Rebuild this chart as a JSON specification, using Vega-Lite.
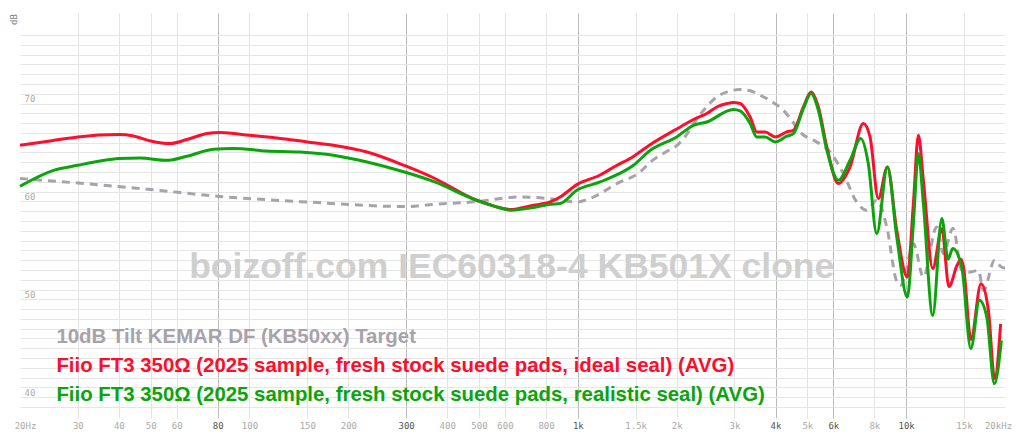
{
  "$schema": "https://vega.github.io/schema/vega-lite/v6.json",
  "width": 985,
  "height": 394,
  "autosize": "none",
  "padding": {"left": 20, "top": 13, "right": 19, "bottom": 36},
  "background": "white",
  "config": {"view": {"stroke": null}},
  "datasets": {
    "curves": [
      {"s": "t", "f": 20, "d": 62.34}, {"s": "t", "f": 30, "d": 61.88}, {"s": "t", "f": 50, "d": 61.21}, {"s": "t", "f": 80, "d": 60.53},
      {"s": "t", "f": 150, "d": 59.94}, {"s": "t", "f": 300, "d": 59.48}, {"s": "t", "f": 363, "d": 59.7}, {"s": "t", "f": 500, "d": 60.0},
      {"s": "t", "f": 600, "d": 60.35}, {"s": "t", "f": 650, "d": 60.45}, {"s": "t", "f": 820, "d": 60.29}, {"s": "t", "f": 990, "d": 59.94},
      {"s": "t", "f": 1115, "d": 60.45}, {"s": "t", "f": 1314, "d": 61.82}, {"s": "t", "f": 1548, "d": 63.01}, {"s": "t", "f": 1660, "d": 64.0},
      {"s": "t", "f": 1865, "d": 65.1}, {"s": "t", "f": 2000, "d": 65.7}, {"s": "t", "f": 2120, "d": 66.6}, {"s": "t", "f": 2249, "d": 67.9},
      {"s": "t", "f": 2400, "d": 69.2}, {"s": "t", "f": 2650, "d": 70.67}, {"s": "t", "f": 2850, "d": 71.2}, {"s": "t", "f": 3119, "d": 71.43},
      {"s": "t", "f": 3350, "d": 71.3}, {"s": "t", "f": 3596, "d": 70.85}, {"s": "t", "f": 3900, "d": 70.2}, {"s": "t", "f": 4227, "d": 69.31},
      {"s": "t", "f": 4500, "d": 68.2}, {"s": "t", "f": 4751, "d": 67.1}, {"s": "t", "f": 5341, "d": 66.08}, {"s": "t", "f": 5864, "d": 65.06},
      {"s": "t", "f": 6437, "d": 62.85}, {"s": "t", "f": 7069, "d": 59.94}, {"s": "t", "f": 7583, "d": 59.09}, {"s": "t", "f": 8135, "d": 60.12},
      {"s": "t", "f": 8729, "d": 57.39}, {"s": "t", "f": 9362, "d": 51.8}, {"s": "t", "f": 9600, "d": 51.4}, {"s": "t", "f": 9900, "d": 52.3},
      {"s": "t", "f": 10519, "d": 55.69}, {"s": "t", "f": 11283, "d": 52.28}, {"s": "t", "f": 12390, "d": 57.39}, {"s": "t", "f": 12980, "d": 54.67},
      {"s": "t", "f": 13890, "d": 57.26}, {"s": "t", "f": 14770, "d": 52.96}, {"s": "t", "f": 15660, "d": 52.79}, {"s": "t", "f": 16590, "d": 52.96},
      {"s": "t", "f": 17200, "d": 50.9}, {"s": "t", "f": 18600, "d": 54.0}, {"s": "t", "f": 19500, "d": 53.3}, {"s": "t", "f": 20000, "d": 53.17},

      {"s": "r", "f": 20, "d": 65.74}, {"s": "r", "f": 25, "d": 66.2}, {"s": "r", "f": 30, "d": 66.59}, {"s": "r", "f": 40, "d": 66.83},
      {"s": "r", "f": 44.3, "d": 66.69}, {"s": "r", "f": 50, "d": 66.18}, {"s": "r", "f": 57.3, "d": 65.91}, {"s": "r", "f": 64.5, "d": 66.32},
      {"s": "r", "f": 74.2, "d": 66.93}, {"s": "r", "f": 81.4, "d": 67.04}, {"s": "r", "f": 100, "d": 66.76}, {"s": "r", "f": 121, "d": 66.48},
      {"s": "r", "f": 150, "d": 66.08}, {"s": "r", "f": 180, "d": 65.74}, {"s": "r", "f": 228, "d": 65.05}, {"s": "r", "f": 300, "d": 63.6},
      {"s": "r", "f": 363, "d": 62.42}, {"s": "r", "f": 492, "d": 60.12}, {"s": "r", "f": 560, "d": 59.5}, {"s": "r", "f": 622, "d": 59.17},
      {"s": "r", "f": 732, "d": 59.61}, {"s": "r", "f": 823, "d": 59.94}, {"s": "r", "f": 883, "d": 60.45}, {"s": "r", "f": 993, "d": 61.72},
      {"s": "r", "f": 1169, "d": 62.7}, {"s": "r", "f": 1300, "d": 63.6}, {"s": "r", "f": 1477, "d": 64.6}, {"s": "r", "f": 1660, "d": 65.8},
      {"s": "r", "f": 2000, "d": 67.4}, {"s": "r", "f": 2249, "d": 68.37}, {"s": "r", "f": 2471, "d": 68.98}, {"s": "r", "f": 2650, "d": 69.65},
      {"s": "r", "f": 2850, "d": 70.0}, {"s": "r", "f": 2977, "d": 70.1}, {"s": "r", "f": 3119, "d": 70.0}, {"s": "r", "f": 3348, "d": 68.63},
      {"s": "r", "f": 3508, "d": 67.1}, {"s": "r", "f": 3718, "d": 67.1}, {"s": "r", "f": 4000, "d": 66.59}, {"s": "r", "f": 4328, "d": 67.1},
      {"s": "r", "f": 4535, "d": 67.27}, {"s": "r", "f": 4864, "d": 69.65}, {"s": "r", "f": 5133, "d": 71.18}, {"s": "r", "f": 5403, "d": 69.65},
      {"s": "r", "f": 5733, "d": 65.56}, {"s": "r", "f": 6216, "d": 61.82}, {"s": "r", "f": 6746, "d": 63.52}, {"s": "r", "f": 7406, "d": 67.96},
      {"s": "r", "f": 7762, "d": 66.59}, {"s": "r", "f": 8227, "d": 60.29}, {"s": "r", "f": 8768, "d": 63.52}, {"s": "r", "f": 9362, "d": 57.05},
      {"s": "r", "f": 10085, "d": 52.28}, {"s": "r", "f": 10519, "d": 59.78}, {"s": "r", "f": 10895, "d": 66.76}, {"s": "r", "f": 11283, "d": 62.16},
      {"s": "r", "f": 12050, "d": 53.14}, {"s": "r", "f": 12840, "d": 57.2}, {"s": "r", "f": 13500, "d": 51.3}, {"s": "r", "f": 14300, "d": 53.5},
      {"s": "r", "f": 14700, "d": 54.1}, {"s": "r", "f": 14950, "d": 53.3}, {"s": "r", "f": 15750, "d": 45.9}, {"s": "r", "f": 16900, "d": 51.6},
      {"s": "r", "f": 17800, "d": 48.88}, {"s": "r", "f": 18600, "d": 41.9}, {"s": "r", "f": 19400, "d": 47.5},

      {"s": "g", "f": 20, "d": 61.55}, {"s": "g", "f": 25.3, "d": 63.18}, {"s": "g", "f": 30, "d": 63.69}, {"s": "g", "f": 35.1, "d": 64.13},
      {"s": "g", "f": 40, "d": 64.38}, {"s": "g", "f": 46.4, "d": 64.44}, {"s": "g", "f": 56, "d": 64.2}, {"s": "g", "f": 64.5, "d": 64.61},
      {"s": "g", "f": 77.7, "d": 65.33}, {"s": "g", "f": 89.4, "d": 65.4}, {"s": "g", "f": 112.9, "d": 65.16}, {"s": "g", "f": 142.6, "d": 65.05},
      {"s": "g", "f": 180, "d": 64.72}, {"s": "g", "f": 228, "d": 64.03}, {"s": "g", "f": 300, "d": 62.95}, {"s": "g", "f": 363, "d": 62.04},
      {"s": "g", "f": 492, "d": 60.12}, {"s": "g", "f": 600, "d": 59.2}, {"s": "g", "f": 622, "d": 59.1}, {"s": "g", "f": 732, "d": 59.37},
      {"s": "g", "f": 823, "d": 59.71}, {"s": "g", "f": 883, "d": 59.78}, {"s": "g", "f": 993, "d": 61.14}, {"s": "g", "f": 1169, "d": 61.99},
      {"s": "g", "f": 1477, "d": 63.69}, {"s": "g", "f": 1660, "d": 65.2}, {"s": "g", "f": 2000, "d": 66.59}, {"s": "g", "f": 2249, "d": 67.78},
      {"s": "g", "f": 2471, "d": 68.12}, {"s": "g", "f": 2977, "d": 69.39}, {"s": "g", "f": 3119, "d": 69.24}, {"s": "g", "f": 3348, "d": 67.96},
      {"s": "g", "f": 3508, "d": 66.59}, {"s": "g", "f": 3718, "d": 66.59}, {"s": "g", "f": 4000, "d": 66.08}, {"s": "g", "f": 4328, "d": 66.66},
      {"s": "g", "f": 4535, "d": 66.93}, {"s": "g", "f": 4864, "d": 69.49}, {"s": "g", "f": 5133, "d": 71.02}, {"s": "g", "f": 5403, "d": 69.31},
      {"s": "g", "f": 5733, "d": 65.23}, {"s": "g", "f": 6216, "d": 62.16}, {"s": "g", "f": 6746, "d": 64.2}, {"s": "g", "f": 7271, "d": 66.42},
      {"s": "g", "f": 7667, "d": 63.87}, {"s": "g", "f": 8135, "d": 56.71}, {"s": "g", "f": 8768, "d": 63.52}, {"s": "g", "f": 9362, "d": 56.37},
      {"s": "g", "f": 10085, "d": 50.23}, {"s": "g", "f": 10519, "d": 57.74}, {"s": "g", "f": 10895, "d": 64.89}, {"s": "g", "f": 11283, "d": 59.78},
      {"s": "g", "f": 12050, "d": 48.36}, {"s": "g", "f": 12840, "d": 58.25}, {"s": "g", "f": 13420, "d": 54.1}, {"s": "g", "f": 13860, "d": 55.18},
      {"s": "g", "f": 14770, "d": 53.3}, {"s": "g", "f": 15740, "d": 44.96}, {"s": "g", "f": 16710, "d": 49.9}, {"s": "g", "f": 17600, "d": 48.19},
      {"s": "g", "f": 18560, "d": 41.38}, {"s": "g", "f": 19500, "d": 45.8}
    ],
    "mark": [{"w": "boizoff.com IEC60318-4 KB501X clone"}]
  },
  "layer": [
    {
      "data": {"name": "mark"},
      "mark": {"type": "text", "align": "center", "baseline": "alphabetic", "font": "Liberation Sans", "fontSize": 35.5, "fontWeight": "bold", "color": "#cfcfcf"},
      "encoding": {
        "x": {"datum": 629, "type": "quantitative"},
        "y": {"datum": 52.15, "type": "quantitative"},
        "text": {"field": "w"}
      }
    },
    {
      "data": {"name": "curves"},
      "transform": [{"filter": "datum.s === 't'"}],
      "mark": {"type": "line", "strokeWidth": 3, "strokeDash": [8, 6], "interpolate": "monotone"},
      "encoding": {
        "x": {
          "field": "f", "type": "quantitative",
          "scale": {"type": "log", "domain": [20, 20000], "nice": false},
          "axis": {
            "title": null,
            "values": [20, 30, 40, 50, 60, 80, 100, 150, 200, 300, 400, 500, 600, 800, 1000, 1500, 2000, 3000, 4000, 5000, 6000, 8000, 10000, 15000, 20000],
            "tickCount": 100,
            "labelExpr": "datum.value == 20 ? '20Hz' : datum.value == 20000 ? '20kHz' : datum.value >= 1000 ? (datum.value / 1000) + 'k' : '' + datum.value",
            "labelFont": "DejaVu Sans Mono",
            "labelFontSize": 9,
            "labelColor": {"condition": {"test": "indexof([80,300,1000,4000,6000,10000], datum.value) >= 0", "value": "#555555"}, "value": "#aaaaaa"},
            "labelOffset": {"condition": [{"test": "datum.value == 20", "value": 5}, {"test": "datum.value == 20000", "value": -7}], "value": 0},
            "labelOverlap": false,
            "labelBound": false,
            "labelFlush": false,
            "labelPadding": 3,
            "domain": false,
            "grid": true,
            "gridColor": {"condition": [{"test": "datum.value == 20 || datum.value == 20000", "value": "transparent"}, {"test": "indexof([80,300,1000,4000,6000,10000], datum.value) >= 0", "value": "#bbbbbb"}], "value": "#e3e3e3"},
            "tickColor": {"condition": [{"test": "datum.value == 20 || datum.value == 20000", "value": "transparent"}, {"test": "indexof([80,300,1000,4000,6000,10000], datum.value) >= 0", "value": "#bbbbbb"}], "value": "#e3e3e3"},
            "tickSize": 11
          }
        },
        "y": {
          "field": "d", "type": "quantitative",
          "scale": {"domain": [39, 79.25], "nice": false, "zero": false},
          "axis": {
            "values": [39, 40, 41, 42, 43, 44, 45, 46, 47, 48, 49, 50, 51, 52, 53, 54, 55, 56, 57, 58, 59, 60, 61, 62, 63, 64, 65, 66, 67, 68, 69, 70, 71, 72, 73, 74, 75, 76, 77],
            "tickCount": 100,
            "labelExpr": "datum.value % 10 === 0 ? format(datum.value, 'd') : ''",
            "labelOverlap": false,
            "grid": true,
            "gridColor": "#e6e6e6",
            "domain": false,
            "ticks": false,
            "labelAlign": "left",
            "labelBaseline": "bottom",
            "labelPadding": -4,
            "labelFont": "DejaVu Sans Mono",
            "labelFontSize": 9,
            "labelColor": "#aaaaaa",
            "title": "dB",
            "titleX": -7,
            "titleY": 6,
            "titleAngle": -90,
            "titleAlign": "center",
            "titleBaseline": "middle",
            "titleFont": "DejaVu Sans Mono",
            "titleFontSize": 9,
            "titleFontWeight": "normal",
            "titleColor": "#777777"
          }
        },
        "color": {
          "field": "s", "type": "nominal",
          "scale": {"domain": ["t", "r", "g"], "range": ["#a8a2aa", "#ff0d2d", "#0ca40c"]},
          "legend": {
            "orient": "none",
            "legendX": 16,
            "legendY": 314,
            "title": null,
            "padding": 0,
            "labelExpr": "datum.value == 't' ? '10dB Tilt KEMAR DF (KB50xx) Target' : datum.value == 'r' ? 'Fiio FT3 350Ω (2025 sample, fresh stock suede pads, ideal seal) (AVG)' : 'Fiio FT3 350Ω (2025 sample, fresh stock suede pads, realistic seal) (AVG)'",
            "labelFont": "Liberation Sans",
            "labelFontSize": 20.4,
            "labelFontWeight": "bold",
            "labelLimit": 0,
            "labelOffset": 0,
            "symbolSize": 0,
            "symbolOpacity": 0,
            "symbolStrokeWidth": 0,
            "rowPadding": 7.8,
            "encode": {"labels": {"update": {"fill": {"signal": "scale('color', datum.value)"}}}}
          }
        }
      }
    },
    {
      "data": {"name": "curves"},
      "transform": [{"filter": "datum.s === 'r'"}],
      "mark": {"type": "line", "strokeWidth": 3, "interpolate": "monotone"},
      "encoding": {
        "x": {"field": "f", "type": "quantitative"},
        "y": {"field": "d", "type": "quantitative"},
        "color": {"field": "s", "type": "nominal"}
      }
    },
    {
      "data": {"name": "curves"},
      "transform": [{"filter": "datum.s === 'g'"}],
      "mark": {"type": "line", "strokeWidth": 3, "interpolate": "monotone"},
      "encoding": {
        "x": {"field": "f", "type": "quantitative"},
        "y": {"field": "d", "type": "quantitative"},
        "color": {"field": "s", "type": "nominal"}
      }
    }
  ]
}
